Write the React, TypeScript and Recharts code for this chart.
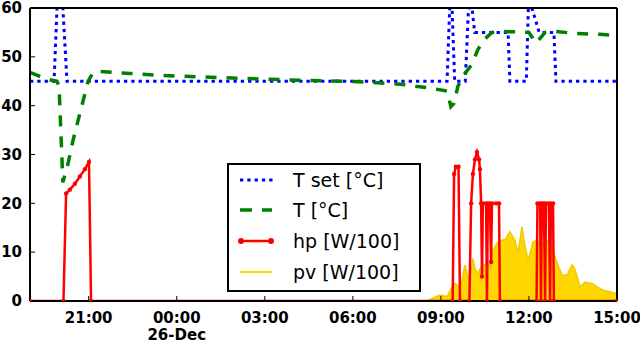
import React from 'react';
import { ComposedChart, Line, Area, XAxis, YAxis, Legend } from 'recharts';

// time in hours relative to 00:00 on 26-Dec
const tSetPoints: [number, number][] = [
  [-5, 45], [-4.18, 45], [-4.08, 60], [-3.88, 60], [-3.74, 45],
  [9.21, 45], [9.3, 60], [9.38, 60], [9.47, 45], [9.83, 45], [9.94, 60], [10.06, 60], [10.15, 55],
  [11.29, 55], [11.35, 45], [11.91, 45], [11.98, 60], [12.1, 60], [12.35, 55], [12.85, 55], [12.92, 45], [15, 45],
];

const tPoints: [number, number][] = [
  [-5, 46.8], [-4.66, 46.0], [-4.32, 45.3], [-4.08, 45.0], [-4.01, 44], [-3.88, 24.3], [-3.71, 28],
  [-3.53, 33], [-3.36, 37], [-3.19, 41], [-3.02, 45], [-2.85, 46.8], [-2.61, 47], [-1.59, 46.6],
  [-0.57, 46.2], [0.79, 45.9], [2.16, 45.6], [4.2, 45.2], [6.24, 44.9], [7.61, 44.4], [8.63, 43.6],
  [9.21, 43.0], [9.34, 39.8], [9.45, 40.5], [9.58, 44], [9.82, 46.6], [10.06, 48.5], [10.26, 51.5],
  [10.47, 53.5], [10.74, 55], [11.01, 55.2], [11.69, 55.1], [12.0, 55], [12.24, 52.8], [12.55, 55],
  [12.89, 55.2], [13.57, 54.8], [14.42, 54.6], [15, 54.4],
];

const hpPoints: [number, number][] = [
  [-5, 0], [-3.86, 0], [-3.77, 22], [-3.64, 22.8], [-3.47, 24], [-3.3, 25.5], [-3.13, 27], [-2.99, 28.5],
  [-2.92, 0], [9.4, 0], [9.45, 26], [9.51, 27.5], [9.6, 27.5], [9.65, 0], [9.97, 0], [10.03, 20],
  [10.09, 26], [10.16, 29], [10.23, 30.5], [10.3, 29], [10.33, 27], [10.37, 20], [10.4, 5], [10.43, 20],
  [10.54, 20], [10.57, 0], [10.6, 20], [10.67, 20], [10.71, 8], [10.74, 20], [10.88, 20], [10.98, 20],
  [11.01, 0], [12.26, 0], [12.29, 20], [12.38, 20], [12.41, 0], [12.44, 20], [12.51, 20], [12.55, 0],
  [12.58, 20], [12.68, 20], [12.72, 0], [12.75, 20], [12.82, 20], [12.85, 0], [15, 0],
];

const pvPoints: [number, number][] = [
  [-5, 0], [8.5, 0], [8.63, 0.3], [8.97, 1.2], [9.21, 0.9], [9.38, 2.9], [9.48, 3.6], [9.65, 2.9],
  [9.72, 4.3], [9.82, 7.4], [9.92, 5], [9.99, 4.3], [10.09, 8.7], [10.16, 6.6], [10.26, 5.6],
  [10.33, 6.6], [10.43, 7.4], [10.6, 7.7], [10.67, 6.8], [10.77, 10.4], [10.91, 11.8], [11.08, 12.5],
  [11.18, 12.5], [11.35, 14.2], [11.52, 12.5], [11.63, 9.8], [11.76, 15.2], [11.87, 11.1], [11.97, 8.4],
  [12.04, 9.8], [12.14, 12.1], [12.27, 12.5], [12.41, 11.1], [12.61, 12.5], [12.79, 11.1], [12.96, 7.7],
  [13.13, 5.3], [13.3, 5.3], [13.47, 7.4], [13.57, 6.5], [13.74, 2.9], [13.91, 3.9], [14.15, 3.6],
  [14.32, 2.9], [14.52, 2.2], [14.76, 1.9], [14.93, 1.6], [15, 1.6],
];

const xTicks = [-3, 0, 3, 6, 9, 12, 15];
const xTickLabels = ['21:00', '00:00', '03:00', '06:00', '09:00', '12:00', '15:00'];
const dateLabel = '26-Dec';
const yTicks = [0, 10, 20, 30, 40, 50, 60];

const seriesNames = ['T set [°C]', 'T [°C]', 'hp [W/100]', 'pv [W/100]'];

const toRows = (pts: [number, number][]) => pts.map(([t, v]) => ({ t, v }));

const FONT = '"DejaVu Sans", sans-serif';
const BLUE = '#0000ff';
const GREEN = '#008000';
const RED = '#ff0000';
const GOLD = '#ffd700';

const XTick = (props: any) => {
  const { x, y, payload } = props;
  const i = xTicks.indexOf(payload.value);
  return (
    <g>
      <text x={x} y={y} textAnchor="middle" fontFamily={FONT} fontWeight="bold" fontSize={15} fill="#000">
        {xTickLabels[i]}
      </text>
      {payload.value === 0 && (
        <text x={x} y={y + 17} textAnchor="middle" fontFamily={FONT} fontWeight="bold" fontSize={15} fill="#000">
          {dateLabel}
        </text>
      )}
    </g>
  );
};

const renderLegend = () => {
  const rows = [17, 47, 78, 109];
  return (
    <svg width={194} height={129} style={{ display: 'block' }}>
      <rect x={1} y={1} width={192} height={127} fill="#fff" stroke="#000" strokeWidth={2} />
      <line x1={13} x2={46} y1={rows[0]} y2={rows[0]} stroke={BLUE} strokeWidth={3} strokeDasharray="3.3 4" />
      <line x1={13} x2={45} y1={rows[1]} y2={rows[1]} stroke={GREEN} strokeWidth={3.5} strokeDasharray="12 10" />
      <line x1={14} x2={44} y1={rows[2]} y2={rows[2]} stroke={RED} strokeWidth={2.5} />
      <circle cx={14} cy={rows[2]} r={3} fill={RED} />
      <circle cx={44} cy={rows[2]} r={3} fill={RED} />
      <line x1={13} x2={45} y1={rows[3]} y2={rows[3]} stroke={GOLD} strokeWidth={2} />
      {seriesNames.map((n, i) => (
        <text key={n} x={66} y={rows[i] + 6.5} fontFamily={FONT} fontSize={19} fill="#000">
          {n}
        </text>
      ))}
    </svg>
  );
};

export default function App() {
  const axisLine = { stroke: '#000', strokeWidth: 2 };
  const tickLine = { stroke: '#000', strokeWidth: 1 };
  return (
    <div style={{ width: 640, height: 342, background: '#fff' }}>
      <style>{'body{margin:0;background:#fff;}'}</style>
      <ComposedChart width={640} height={342} margin={{ top: 0, right: 0, bottom: 0, left: 0 }}>
        <XAxis
          xAxisId="b"
          type="number"
          dataKey="t"
          domain={[-5, 15]}
          ticks={xTicks}
          allowDataOverflow
          height={41}
          axisLine={axisLine}
          tickLine={tickLine}
          tickSize={-5}
          tickMargin={27}
          tick={<XTick />}
          interval={0}
        />
        <XAxis
          xAxisId="t"
          orientation="top"
          type="number"
          dataKey="t"
          domain={[-5, 15]}
          ticks={xTicks}
          allowDataOverflow
          height={8}
          axisLine={axisLine}
          tickLine={tickLine}
          tickSize={-5}
          tick={false}
          interval={0}
        />
        <YAxis
          yAxisId="l"
          type="number"
          domain={[0, 60]}
          ticks={yTicks}
          allowDataOverflow
          width={30}
          axisLine={axisLine}
          tickLine={tickLine}
          tickSize={-5}
          tickMargin={13}
          tick={{ fontFamily: FONT, fontWeight: 'bold', fontSize: 15, fill: '#000' }}
          interval={0}
        />
        <YAxis
          yAxisId="r"
          orientation="right"
          type="number"
          domain={[0, 60]}
          ticks={yTicks}
          allowDataOverflow
          width={23}
          axisLine={axisLine}
          tickLine={tickLine}
          tickSize={-5}
          tick={false}
          interval={0}
        />
        <Area
          xAxisId="b"
          yAxisId="l"
          data={toRows(pvPoints)}
          dataKey="v"
          type="linear"
          stroke="#f5c800"
          strokeWidth={1.5}
          fill={GOLD}
          fillOpacity={1}
          isAnimationActive={false}
          dot={false}
          activeDot={false}
        />
        <Line
          xAxisId="b"
          yAxisId="l"
          data={toRows(tSetPoints)}
          dataKey="v"
          type="linear"
          stroke={BLUE}
          strokeWidth={3}
          strokeDasharray="3.3 4"
          dot={false}
          activeDot={false}
          isAnimationActive={false}
        />
        <Line
          xAxisId="b"
          yAxisId="l"
          data={toRows(tPoints)}
          dataKey="v"
          type="linear"
          stroke={GREEN}
          strokeWidth={3.5}
          strokeDasharray="11 10"
          dot={false}
          activeDot={false}
          isAnimationActive={false}
        />
        <Line
          xAxisId="b"
          yAxisId="l"
          data={toRows(hpPoints)}
          dataKey="v"
          type="linear"
          stroke={RED}
          strokeWidth={2.5}
          dot={{ r: 2.2, fill: RED, stroke: RED, strokeWidth: 0 }}
          activeDot={false}
          isAnimationActive={false}
        />
        <Legend
          layout="vertical"
          align="center"
          verticalAlign="middle"
          content={renderLegend}
          wrapperStyle={{ position: 'absolute', left: 227, top: 163, width: 194, height: 129 }}
        />
      </ComposedChart>
    </div>
  );
}
